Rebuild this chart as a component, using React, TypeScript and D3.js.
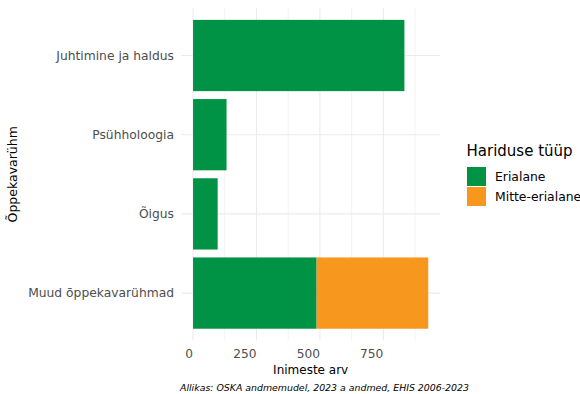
import React from "react";
import * as d3 from "d3";

const categories = ["Juhtimine ja haldus", "Psühholoogia", "Õigus", "Muud õppekavarühmad"];
const seriesNames = ["Erialane", "Mitte-erialane"];
const erialane = [833, 132, 97, 487];
const mitteErialane = [0, 0, 0, 440];
const xTicks = [0, 250, 500, 750];
const xMinorTicks = [125, 375, 625, 875];
const colors = ["#009245", "#F7971D"];

const W = 580;
const H = 394;
const FONT = "DejaVu Sans, Liberation Sans, Arial, sans-serif";

export default function App() {
  const left = 181.3;
  const right = 440;
  const top = 8;
  const bottom = 340.6;

  const totals = categories.map((_, i) => erialane[i] + mitteErialane[i]);
  const maxV = d3.max(totals) as number;
  const x = d3.scaleLinear().domain([-0.05 * maxV, maxV * 1.05]).range([left, right]);
  const y = d3.scaleBand().domain(categories).range([top, bottom]).paddingInner(0.1).paddingOuter(0.15);

  const stackData = categories.map((c, i) => ({ cat: c, Erialane: erialane[i], "Mitte-erialane": mitteErialane[i] }));
  const stacked = d3.stack<any>().keys(seriesNames)(stackData);

  return (
    <svg width={W} height={H} style={{ position: "absolute", left: 0, top: 0, background: "#fff" }}>
      {xMinorTicks.map((t) => (
        <line key={"mn" + t} x1={x(t)} x2={x(t)} y1={top} y2={bottom} stroke="#ebebeb" strokeWidth={0.6} />
      ))}
      {xTicks.map((t) => (
        <line key={"mj" + t} x1={x(t)} x2={x(t)} y1={top} y2={bottom} stroke="#ebebeb" strokeWidth={1.1} />
      ))}
      {categories.map((c) => (
        <line key={"hg" + c} x1={left} x2={right} y1={(y(c) as number) + y.bandwidth() / 2} y2={(y(c) as number) + y.bandwidth() / 2} stroke="#ebebeb" strokeWidth={1.1} />
      ))}
      {stacked.map((s, si) =>
        s.map((d, i) =>
          d[1] - d[0] > 0 ? (
            <rect
              key={si + "-" + i}
              x={x(d[0])}
              width={x(d[1]) - x(d[0])}
              y={y(categories[i]) as number}
              height={y.bandwidth()}
              fill={colors[si]}
            />
          ) : null
        )
      )}
      {categories.map((c) => (
        <text key={"yl" + c} x={174} y={(y(c) as number) + y.bandwidth() / 2} dy="0.35em" textAnchor="end" fontFamily={FONT} fontSize={12.3} fill="#4d4d4d">
          {c}
        </text>
      ))}
      {xTicks.map((t) => (
        <text key={"xl" + t} x={x(t)} y={358} textAnchor="end" fontFamily={FONT} fontSize={12.2} fill="#4d4d4d">
          {t}
        </text>
      ))}
      <text x={(left + right) / 2} y={374} textAnchor="middle" fontFamily={FONT} fontSize={12} fill="#000">
        Inimeste arv
      </text>
      <text transform={`translate(17,${(top + bottom) / 2}) rotate(-90)`} textAnchor="middle" fontFamily={FONT} fontSize={12.5} fill="#000">
        Õppekavarühm
      </text>
      <text x={180} y={391} fontFamily={FONT} fontStyle="italic" fontSize={9.4} fill="#000">
        Allikas: OSKA andmemudel, 2023 a andmed, EHIS 2006-2023
      </text>
      <text x={466.5} y={156} fontFamily={FONT} fontSize={15} fill="#000">
        Hariduse tüüp
      </text>
      {seriesNames.map((s, i) => (
        <g key={"lg" + s}>
          <rect x={467} y={167 + i * 20} width={19} height={19} fill={colors[i]} />
          <text x={495} y={176.5 + i * 20} dy="0.35em" fontFamily={FONT} fontSize={12.4} fill="#000">
            {s}
          </text>
        </g>
      ))}
    </svg>
  );
}
